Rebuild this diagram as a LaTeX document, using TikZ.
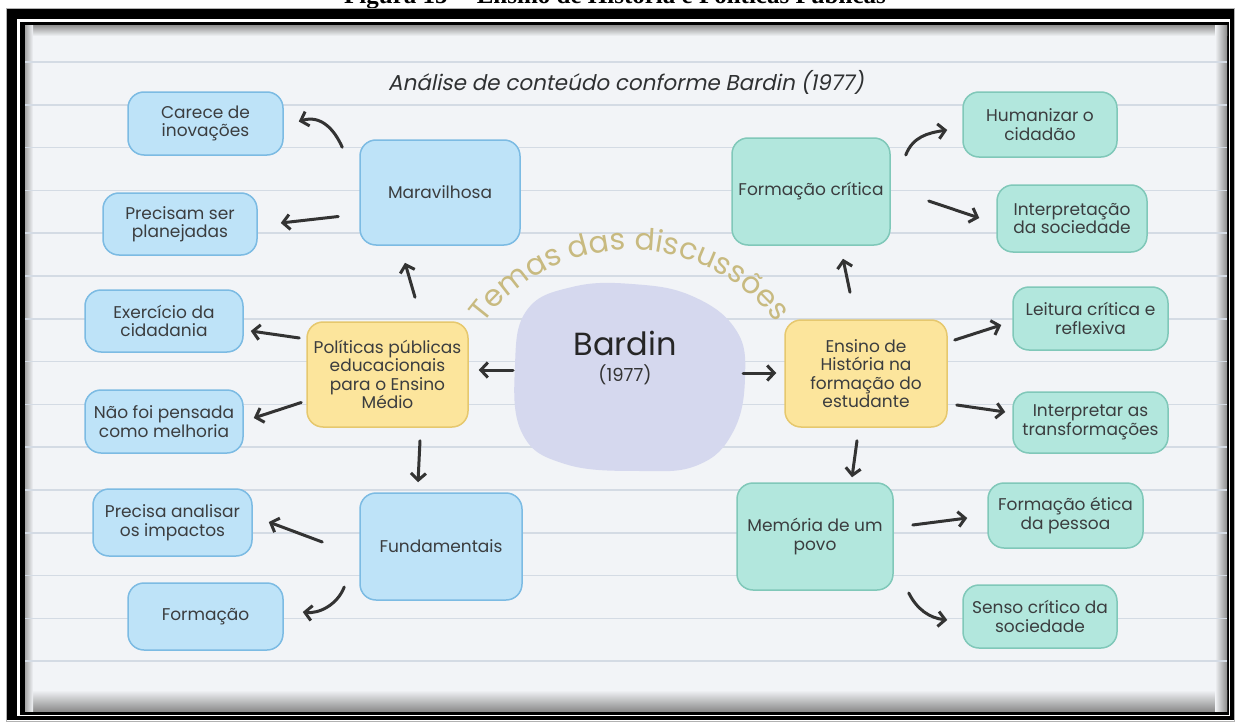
\documentclass[tikz,border=0pt]{standalone}
\usepackage{fontspec}
\setmainfont{Poppins}
\newfontfamily\capfont{Liberation Serif}
\newfontfamily\titlefont[FakeSlant=0.2]{Poppins}
\usetikzlibrary{arrows.meta,calc,decorations.text}
\definecolor{bg}{HTML}{F2F4F7}
\definecolor{rulec}{HTML}{D4DBE4}
\definecolor{bfill}{HTML}{BEE3F8}
\definecolor{bline}{HTML}{7CBBE3}
\definecolor{tfill}{HTML}{B2E7DD}
\definecolor{tline}{HTML}{80C8B9}
\definecolor{yfill}{HTML}{FCE59C}
\definecolor{yline}{HTML}{E6C86E}
\definecolor{blobc}{HTML}{D5D8EE}
\definecolor{ink}{HTML}{3B3D3F}
\definecolor{arrowc}{HTML}{333333}
\definecolor{temasc}{HTML}{C8BA80}
\newcommand\boxfont{\fontsize{17}{18.5}\selectfont}
\newcommand\temasfont{\fontsize{30}{30}\selectfont}
\tikzset{
  boxbase/.style={rounded corners=16pt, line width=1.5pt, align=center, text=ink, font=\boxfont, inner sep=0pt},
  bbox/.style={boxbase, fill=bfill, draw=bline},
  tbox/.style={boxbase, fill=tfill, draw=tline},
  ybox/.style={boxbase, fill=yfill, draw=yline},
  arr/.style={draw=arrowc, line width=3pt, line cap=round, line join=round, -{Straight Barb[length=7pt,width=15pt]}},
}
\begin{document}
\begin{tikzpicture}[x=1pt,y=-1pt]
\useasboundingbox (0,0) rectangle (1237,725);
% caption (cut off at top)
\begin{scope}
\clip (0,0) rectangle (1237,8);
\node[font=\capfont\bfseries\fontsize{25}{25}\selectfont, anchor=base, inner sep=0pt] (caption) at (615,4) {Figura 15 -- Ensino de História e Políticas Públicas};
\end{scope}
% frame
\draw[black!30, line width=0.8pt] (6.5,8) rectangle (1234.5,721.5);
\fill[black] (7,9) rectangle (1234,720);
\fill[white] (17,19) rectangle (1230,716);
\fill[black] (20,22) rectangle (1229,715);
\fill[bg] (25,26) rectangle (1227,711);
% vignette
\shade[top color=black!40, bottom color=bg] (25,26) rectangle (1227,36);
\shade[top color=bg, bottom color=black!45] (25,690) rectangle (1227,711);
\shade[left color=black!35, right color=bg] (25,26) rectangle (33,711);
\shade[left color=bg, right color=black!45] (1215,26) rectangle (1227,711);
% ruled lines
\foreach \k in {0,...,14} {
  \draw[rulec, line width=1.5pt] (25,{62+42.8*\k}) -- (1227,{62+42.8*\k});
}
% title
\node[font=\titlefont\fontsize{21.5}{21.5}\selectfont, text=ink!80!black, anchor=base] (title) at (626,90) {Análise de conteúdo conforme Bardin (1977)};
% central blob
\fill[blobc] plot[smooth cycle, tension=0.7] coordinates {(515,365) (527,310) (572,287) (632,284) (692,296) (736,330) (745,378) (733,432) (698,465) (640,471) (565,464) (522,433)};
\node[font=\fontsize{32}{32}\selectfont, text=black!85, anchor=base, inner sep=0pt] (bardin) at (625,355) {Bardin};
\node[font=\fontsize{18}{18}\selectfont, text=black!80, anchor=base, inner sep=0pt] (year) at (625,381) {(1977)};
% arc text
\path[decorate, decoration={text along path, text align=center, text={|\temasfont\color{temasc}|Temas das discussões}}]
  plot[domain=214:326, samples=60, variable=\t] ({630+183*cos(\t)},{433+183*sin(\t)});
% left boxes
\node[bbox, minimum width=155pt, minimum height=63pt] (car) at (205.5,123.5) {Carece de\\inovações};
\node[bbox, minimum width=154pt, minimum height=62pt] (pla) at (180,224) {Precisam ser\\planejadas};
\node[bbox, minimum width=160pt, minimum height=105pt] (mar) at (440,192.5) {Maravilhosa};
\node[bbox, minimum width=158pt, minimum height=62pt] (exe) at (164,321) {Exercício da\\cidadania};
\node[bbox, minimum width=158pt, minimum height=63pt] (nao) at (164,421.5) {Não foi pensada\\como melhoria};
\node[ybox, minimum width=161pt, minimum height=105pt] (pol) at (387.5,374.5) {Políticas públicas\\educacionais\\para o Ensino\\Médio};
\node[bbox, minimum width=162pt, minimum height=107pt] (fun) at (441,546.5) {Fundamentais};
\node[bbox, minimum width=159pt, minimum height=67pt] (pre) at (172.5,522.5) {Precisa analisar\\os impactos};
\node[bbox, minimum width=155pt, minimum height=67pt] (for) at (205.5,616.5) {Formação};
% right boxes
\node[tbox, minimum width=158pt, minimum height=107pt] (fcr) at (811,191.5) {Formação crítica};
\node[tbox, minimum width=154pt, minimum height=65pt] (hum) at (1040,124.5) {Humanizar o\\cidadão};
\node[tbox, minimum width=150pt, minimum height=67pt] (int) at (1072,218.5) {Interpretação\\da sociedade};
\node[ybox, minimum width=162pt, minimum height=107pt] (ens) at (866,373.5) {Ensino de\\História na\\formação do\\estudante};
\node[tbox, minimum width=155pt, minimum height=63pt] (lei) at (1090.5,318.5) {Leitura crítica e\\reflexiva};
\node[tbox, minimum width=155pt, minimum height=61pt] (itr) at (1090.5,422.5) {Interpretar as\\transformações};
\node[tbox, minimum width=156pt, minimum height=107pt] (mem) at (815,536.5) {Memória de um\\povo};
\node[tbox, minimum width=155pt, minimum height=65pt] (eti) at (1065.5,515.5) {Formação ética\\da pessoa};
\node[tbox, minimum width=154pt, minimum height=63pt] (sen) at (1040,616.5) {Senso crítico da\\sociedade};
% arrows left
\draw[arr] ($(mar.north west)+(-17,8)$) .. controls +(-8,-18) and +(22,-7) .. ($(car.east)+(15,-2)$);
\draw[arr] ($(mar.west)+(-21,24)$) -- ($(pla.east)+(23,-1)$);
\draw[arr] ($(pol.north)+(27.5,-24)$) -- ($(mar.south)+(-35,17)$);
\draw[arr] ($(pol.west)+(-7,-36.5)$) -- ($(exe.east)+(7,10)$);
\draw[arr] ($(pol.west)+(-5,28)$) -- ($(nao.east)+(10,-3.5)$);
\draw[arr] ($(bardin.base)+(-112,15)$) -- ($(pol.east)+(10,-4.5)$);
\draw[arr] ($(pol.south)+(32.5,13)$) -- ($(fun.north)+(-23,-10)$);
\draw[arr] ($(fun.west)+(-37,-4.5)$) -- ($(pre.east)+(16,-0.5)$);
\draw[arr] ($(fun.west)+(-15,40.5)$) .. controls +(-7,18) and +(16,2) .. ($(for.east)+(19,-4.5)$);
% arrows right
\draw[arr] ($(bardin.base)+(118,18)$) -- ($(ens.west)+(-8,-0.5)$);
\draw[arr] ($(ens.north)+(-16,-27)$) -- ($(fcr.south)+(32,13)$);
\draw[arr] ($(fcr.east)+(15,-36.5)$) .. controls +(7,-18) and +(-20,3) .. ($(hum.west)+(-15,5.5)$);
\draw[arr] ($(fcr.east)+(38,9.5)$) -- ($(int.west)+(-17,-0.5)$);
\draw[arr] ($(ens.east)+(7,-33.5)$) -- ($(lei.west)+(-11,6.5)$);
\draw[arr] ($(ens.east)+(9,31.5)$) -- ($(itr.west)+(-7,-10.5)$);
\draw[arr] ($(ens.south)+(-9,13)$) -- ($(mem.north)+(37,-5)$);
\draw[arr] ($(mem.east)+(19,-11.5)$) -- ($(eti.west)+(-20,2.5)$);
\draw[arr] ($(mem.east)+(15,56.5)$) .. controls +(8,16) and +(-18,-2) .. ($(sen.west)+(-15,3.5)$);
\end{tikzpicture}
\end{document}
